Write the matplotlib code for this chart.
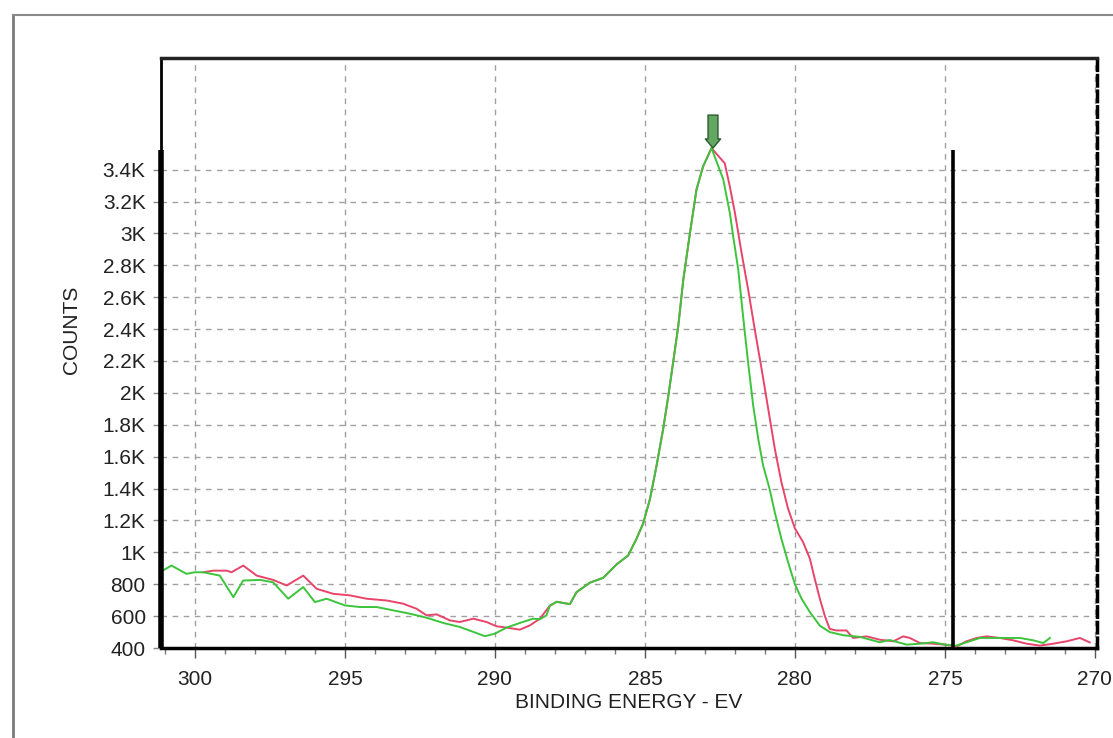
import matplotlib.pyplot as plt
from matplotlib.lines import Line2D
from matplotlib.ticker import FixedLocator, FuncFormatter, MultipleLocator

plt.rcParams["font.family"] = ["Liberation Sans", "DejaVu Sans"]

# ===== DATA =====
green_ev = [301.17, 300.78, 300.28, 300.0, 299.72, 299.17, 298.72, 298.39, 297.83, 297.39,
            296.89, 296.39, 296.0, 295.61, 295.0, 294.5, 293.94, 293.39, 292.83, 292.28,
            291.72, 291.17, 290.72, 290.33, 290.0, 289.61, 289.17, 288.72, 288.5, 288.28,
            288.17, 287.94, 287.5, 287.28, 286.83, 286.39, 285.94, 285.56, 285.28, 285.06,
            284.83, 284.61, 284.39, 284.22, 284.06, 283.89, 283.72, 283.5, 283.28, 283.06,
            282.78, 282.39, 282.17, 282.06, 281.89, 281.73, 281.56, 281.39, 281.22, 281.06,
            280.84, 280.67, 280.45, 280.23, 280.0, 279.78, 279.5, 279.17, 278.84, 278.39,
            277.84, 277.17, 276.84, 276.27, 275.83, 275.39, 275.0, 274.61, 274.28, 273.83,
            273.16, 272.5, 272.05, 271.72, 271.5]
green_counts = [875, 917, 865, 875, 875, 854, 719, 823, 827, 812,
                709, 782, 688, 709, 667, 657, 657, 636, 615, 590,
                557, 532, 501, 474, 490, 528, 557, 584, 580, 605,
                665, 690, 675, 750, 810, 840, 925, 980, 1085, 1180,
                1335, 1545, 1775, 1980, 2190, 2415, 2710, 3000, 3275, 3420,
                3535, 3340, 3130, 2985, 2775, 2485, 2190, 1920, 1710, 1545,
                1395, 1250, 1085, 940, 800, 710, 625, 540, 500, 480,
                470, 436, 450, 421, 427, 436, 421, 415, 436, 463,
                463, 463, 448, 431, 463]

red_ev = [299.72, 299.39, 298.94, 298.78, 298.39, 297.94, 297.39, 296.94, 296.39, 295.94,
          295.39, 294.83, 294.28, 293.61, 293.06, 292.61, 292.28, 291.94, 291.5, 291.17,
          290.72, 290.28, 289.94, 289.61, 289.17, 288.83, 288.5, 288.17, 287.94, 287.5,
          287.28, 286.83, 286.39, 285.94, 285.56, 285.28, 285.06, 284.83, 284.61, 284.39,
          284.22, 284.06, 283.89, 283.72, 283.5, 283.28, 283.06, 282.78, 282.34, 282.17,
          282.0, 281.78, 281.56, 281.34, 281.11, 280.89, 280.67, 280.45, 280.23, 280.0,
          279.73, 279.5, 279.34, 279.17, 279.0, 278.84, 278.62, 278.28, 278.06, 277.61,
          277.17, 276.72, 276.39, 276.17, 275.83, 275.39, 275.0, 274.61, 274.28, 273.94,
          273.61, 273.17, 272.72, 272.28, 271.83, 271.39, 270.94, 270.5, 270.17]
red_counts = [875, 885, 885, 875, 917, 854, 827, 792, 854, 771,
              740, 730, 709, 698, 678, 646, 605, 611, 573, 563,
              584, 563, 536, 528, 515, 542, 584, 665, 690, 675,
              750, 810, 840, 925, 980, 1085, 1180, 1335, 1545, 1775,
              1980, 2190, 2415, 2710, 3000, 3275, 3420, 3535, 3440, 3295,
              3130, 2880, 2650, 2400, 2150, 1900, 1650, 1440, 1275, 1150,
              1065, 960, 835, 710, 600, 520, 510, 510, 463, 473,
              452, 442, 473, 463, 431, 427, 421, 410, 442, 463,
              473, 463, 448, 427, 415, 427, 442, 463, 435]

x_ticks = [300, 295, 290, 285, 280, 275, 270]
y_ticks = list(range(400, 3401, 200))
peak_ev = 282.73
peak_counts = 3535
marker_ev = 274.73
marker_top = 3520
x_range = (301.13, 269.93)
y_range = (400, 4100)


def k_fmt(v, pos):
    if v >= 1000:
        return f"{v / 1000:g}K"
    return f"{int(v)}"


fig = plt.figure(figsize=(11.13, 7.38), dpi=100)
ax = fig.add_axes([161 / 1113, 1 - 648 / 738, (1097 - 161) / 1113, (648 - 58) / 738])

ax.plot(red_ev, red_counts, color="#e8456a", lw=1.4, zorder=3)
ax.plot(green_ev, green_counts, color="#3cc43c", lw=1.4, zorder=4)

# range markers (left one sits on the axis edge)
ax.vlines(x_range[0], y_range[0], marker_top, color="black", lw=4, zorder=5, clip_on=False)
ax.vlines(marker_ev, y_range[0], marker_top, color="black", lw=2.6, zorder=5)

# peak arrow
ax.annotate("", xy=(peak_ev, peak_counts), xytext=(0, 33), textcoords="offset pixels",
            arrowprops=dict(arrowstyle="simple,head_width=1.0,head_length=0.6,tail_width=0.65",
                            fc="#62a862", ec="#2c5a2c", lw=1, mutation_scale=11,
                            shrinkA=0, shrinkB=0), zorder=6)

ax.set_xlim(*x_range)
ax.set_ylim(*y_range)
ax.xaxis.set_major_locator(FixedLocator(x_ticks))
ax.xaxis.set_minor_locator(MultipleLocator(1))
ax.yaxis.set_major_locator(FixedLocator(y_ticks))
ax.yaxis.set_major_formatter(FuncFormatter(k_fmt))

ax.grid(True, which="major", color="#a0a0a0", linestyle=(0, (4, 4)), lw=1)
ax.tick_params(axis="x", which="major", length=7, width=1, color="#555555",
               labelsize=15, labelcolor="#222222", pad=9)
ax.tick_params(axis="x", which="minor", length=4, width=1, color="#777777")
ax.tick_params(axis="y", which="major", length=6, width=1, color="#888888",
               labelsize=15, labelcolor="#222222", pad=5)

ax.spines["left"].set_linewidth(2.0)
ax.spines["top"].set_linewidth(2.5)
ax.spines["top"].set_color("#222222")
ax.spines["bottom"].set_linewidth(2.5)
ax.spines["bottom"].set_linestyle((0, (3, 1)))
ax.spines["right"].set_linewidth(2.5)
ax.spines["right"].set_linestyle((0, (3, 1.5)))

ax.set_xlabel("BINDING ENERGY - EV", fontsize=15, color="#222222", labelpad=3)
ax.set_ylabel("COUNTS", fontsize=15, color="#222222")
ax.yaxis.set_label_coords(-0.085, 0.54)

# outer panel frame
fig.add_artist(Line2D([13 / 1113, 13 / 1113], [0, 1 - 15 / 738], transform=fig.transFigure,
                      color="#7a7a7a", lw=2))
fig.add_artist(Line2D([13 / 1113, 1], [1 - 15 / 738, 1 - 15 / 738], transform=fig.transFigure,
                      color="#8a8a8a", lw=1.5))

fig.savefig("out.png", dpi=100)
